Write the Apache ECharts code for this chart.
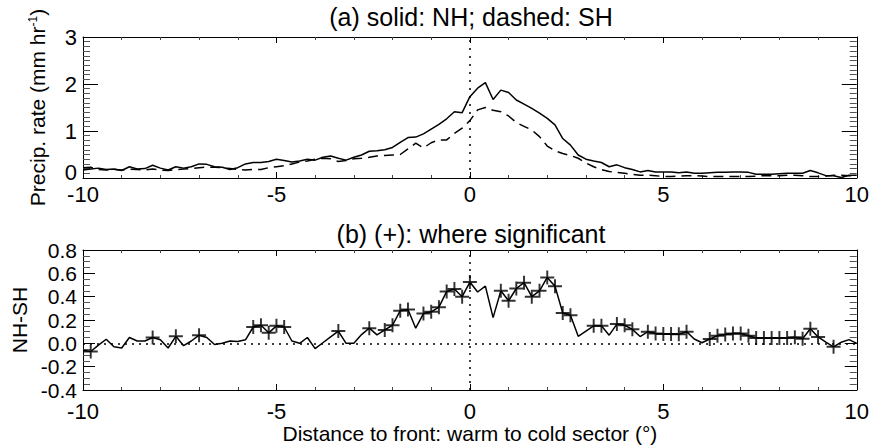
<!DOCTYPE html>
<html><head><meta charset="utf-8">
<script src="https://cdn.jsdelivr.net/npm/echarts@6/dist/echarts.min.js"></script>
<style>html,body{margin:0;padding:0;background:#fff}#c{width:872px;height:445px}</style>
</head><body><div id="c"></div>
<script>
// distance to front (deg), warm to cold sector
const distance = [
-10.0,-9.8,-9.6,-9.4,-9.2,-9.0,-8.8,-8.6,-8.4,-8.2,
-8.0,-7.8,-7.6,-7.4,-7.2,-7.0,-6.8,-6.6,-6.4,-6.2,
-6.0,-5.8,-5.6,-5.4,-5.2,-5.0,-4.8,-4.6,-4.4,-4.2,
-4.0,-3.8,-3.6,-3.4,-3.2,-3.0,-2.8,-2.6,-2.4,-2.2,
-2.0,-1.8,-1.6,-1.4,-1.2,-1.0,-0.8,-0.6,-0.4,-0.2,
0.0,0.2,0.4,0.6,0.8,1.0,1.2,1.4,1.6,1.8,
2.0,2.2,2.4,2.6,2.8,3.0,3.2,3.4,3.6,3.8,
4.0,4.2,4.4,4.6,4.8,5.0,5.2,5.4,5.6,5.8,
6.0,6.2,6.4,6.6,6.8,7.0,7.2,7.4,7.6,7.8,
8.0,8.2,8.4,8.6,8.8,9.0,9.2,9.4,9.6,9.8,
10.0];
// NH precip rate (solid)
const precipNH = [
0.17,0.19,0.21,0.18,0.19,0.16,0.24,0.19,0.20,0.27,
0.21,0.17,0.24,0.21,0.24,0.30,0.29,0.24,0.23,0.18,
0.22,0.30,0.33,0.33,0.35,0.40,0.37,0.34,0.36,0.40,
0.38,0.44,0.47,0.42,0.38,0.44,0.49,0.57,0.58,0.60,
0.65,0.76,0.86,0.87,0.94,1.04,1.14,1.26,1.41,1.39,
1.73,1.91,2.03,1.67,1.87,1.82,1.66,1.57,1.48,1.38,
1.27,1.13,0.84,0.70,0.49,0.40,0.36,0.33,0.24,0.28,
0.22,0.18,0.13,0.16,0.13,0.13,0.13,0.11,0.13,0.10,
0.10,0.11,0.12,0.12,0.13,0.13,0.12,0.08,0.08,0.08,
0.09,0.10,0.10,0.10,0.16,0.11,0.05,0.05,0.01,0.06,
0.06];
// SH precip rate (dashed)
const precipSH = [
0.22,0.23,0.18,0.17,0.18,0.17,0.19,0.18,0.17,0.19,
0.17,0.16,0.18,0.19,0.20,0.22,0.23,0.23,0.22,0.20,
0.18,0.17,0.18,0.18,0.22,0.24,0.26,0.30,0.34,0.36,
0.40,0.42,0.41,0.35,0.37,0.41,0.42,0.44,0.47,0.48,
0.49,0.50,0.62,0.74,0.64,0.75,0.81,0.81,0.95,1.06,
1.22,1.45,1.50,1.44,1.41,1.32,1.18,1.10,1.02,0.88,
0.68,0.58,0.52,0.48,0.42,0.32,0.24,0.18,0.14,0.12,
0.10,0.08,0.06,0.06,0.05,0.03,0.03,0.04,0.05,0.05,
0.04,0.03,0.03,0.03,0.03,0.03,0.03,0.04,0.05,0.05,
0.05,0.06,0.06,0.05,0.03,0.03,0.04,0.06,0.06,0.05,
0.05];
// NH-SH difference
const diffNHSH = [
-0.06,-0.07,-0.015,0.035,-0.03,-0.04,0.05,0.02,0.02,0.05,
0.03,-0.04,0.06,-0.02,0.02,0.07,0.05,-0.01,0.00,0.02,
0.015,0.03,0.14,0.155,0.09,0.15,0.14,0.02,0.00,0.05,
-0.045,0.005,0.055,0.105,0.00,0.00,0.075,0.13,0.072,0.115,
0.155,0.28,0.29,0.13,0.255,0.27,0.31,0.445,0.465,0.40,
0.525,0.44,0.49,0.22,0.45,0.365,0.47,0.52,0.40,0.45,
0.565,0.49,0.26,0.24,0.06,0.105,0.15,0.15,0.07,0.165,
0.155,0.12,0.058,0.10,0.085,0.08,0.08,0.078,0.10,0.037,
0.005,0.037,0.065,0.075,0.085,0.085,0.065,0.045,0.045,0.045,
0.045,0.045,0.053,0.04,0.125,0.055,0.01,-0.03,0.01,0.032,
0.0];
// distances where difference is significant (+)
const significantAt = [-9.8,-8.2,-7.6,-7.0,-5.6,-5.4,-5.2,-5.0,-4.8,-3.4,-2.6,-2.2,-2.0,-1.8,-1.6,
-1.2,-1.0,-0.8,-0.6,-0.4,-0.2,0.0,0.8,1.0,1.2,1.4,1.6,1.8,2.0,2.2,2.4,2.6,3.2,3.4,3.8,4.0,4.2,
4.6,4.8,5.0,5.2,5.4,5.6,6.2,6.4,6.6,6.8,7.0,7.2,7.4,7.6,7.8,8.0,8.2,8.4,8.6,8.8,9.0,9.4];
const xTicks = [-10, -5, 0, 5, 10];
const yTicksTop = [0, 1, 2, 3];
const yTicksBottom = [-0.4, -0.2, 0.0, 0.2, 0.4, 0.6, 0.8];

const FONT = "'Liberation Sans', Arial, Helvetica, sans-serif";
const zip = (a, b) => a.map((v, i) => [v, b[i]]);
const sigData = significantAt.map(x => {
  const i = distance.findIndex(d => Math.abs(d - x) < 1e-6);
  return [distance[i], diffNHSH[i]];
});
const PLUS = 'path://M-1,-0.14 L1,-0.14 L1,0.14 L-1,0.14 Z M-0.14,-1 L0.14,-1 L0.14,1 L-0.14,1 Z';

function xAx(grid, pos, labels, name, margin) {
  return {
    type: 'value', gridIndex: grid, position: pos, min: xTicks[0], max: xTicks[xTicks.length - 1], interval: 5,
    axisLine: { show: true, onZero: false, lineStyle: { color: '#000', width: 1 } },
    axisTick: { show: true, inside: true, length: 6, lineStyle: { color: '#000' } },
    minorTick: { show: true, splitNumber: 5, length: 3, lineStyle: { color: '#444' } },
    splitLine: { show: false },
    axisLabel: { show: labels, color: '#000', fontSize: 22, fontFamily: FONT, margin: margin || 5,
      showMinLabel: true, showMaxLabel: true },
    name: name || '', nameLocation: 'middle', nameGap: 33,
    nameTextStyle: { color: '#000', fontSize: 21, fontFamily: FONT }
  };
}
function yAx(grid, pos, labels, min, max, interval, minorSplit, majLen, fmt, fs, name, gap) {
  return {
    type: 'value', gridIndex: grid, position: pos, min: min, max: max, interval: interval,
    axisLine: { show: true, onZero: false, lineStyle: { color: '#000', width: 1 } },
    axisTick: { show: true, inside: true, length: majLen, lineStyle: { color: '#000' } },
    minorTick: { show: true, splitNumber: minorSplit, length: 7, lineStyle: { color: '#555' } },
    splitLine: { show: false },
    axisLabel: { show: labels, color: '#000', fontSize: fs, fontFamily: FONT, margin: 6, formatter: fmt,
      showMinLabel: true, showMaxLabel: true,
      rich: { z: { fontSize: fs, fontFamily: FONT, color: '#000', padding: [0, 0, 12, 0] } } },
    name: name || '', nameLocation: 'middle', nameGap: gap || 40,
    nameTextStyle: { color: '#000', fontSize: 21, fontFamily: FONT,
      rich: { sup: { fontSize: 12, verticalAlign: 'top', padding: [0, 0, 9, 0], color: '#000', fontFamily: FONT } } }
  };
}
const fmtTop = v => (v === 0 ? '{z|0}' : String(Math.round(v)));
const fmtBot = v => (Math.abs(v) < 1e-9 ? '0.0' : v.toFixed(1));

const dotted = (data, dash) => ({
  silent: true, symbol: ['none', 'none'], label: { show: false },
  lineStyle: { color: '#000', width: 1.5, type: dash, opacity: 1 },
  emphasis: { disabled: true }, animation: false, data: data
});

const chart = echarts.init(document.getElementById('c'), null, { renderer: 'svg' });
chart.setOption({
  animation: false,
  backgroundColor: '#fff',
  textStyle: { fontFamily: FONT },
  graphic: [
    { type: 'text', x: 471, y: 17, style: { text: '(a) solid: NH; dashed: SH', font: '25px ' + FONT, fill: '#000', align: 'center', verticalAlign: 'middle' } },
    { type: 'text', x: 471, y: 234, style: { text: '(b) (+): where significant', font: '25px ' + FONT, fill: '#000', align: 'center', verticalAlign: 'middle' } }
  ],
  grid: [
    { left: 83, top: 37, width: 775, height: 141 },
    { left: 83, top: 250, width: 775, height: 141 }
  ],
  xAxis: [
    xAx(0, 'bottom', true, '', 5),
    xAx(1, 'bottom', true, 'Distance to front: warm to cold sector (°)', 10),
    xAx(0, 'top', false),
    xAx(1, 'top', false)
  ],
  yAxis: [
    yAx(0, 'left', true, 0, 3, 1, 10, 15, fmtTop, 22, 'Precip. rate (mm hr{sup|-1})', 35),
    yAx(1, 'left', true, -0.4, 0.8, 0.2, 4, 12, fmtBot, 21, 'NH-SH', 47),
    yAx(0, 'right', false, 0, 3, 1, 10, 15, fmtTop, 22),
    yAx(1, 'right', false, -0.4, 0.8, 0.2, 4, 12, fmtBot, 21)
  ],
  series: [
    { name: 'NH', type: 'line', xAxisIndex: 0, yAxisIndex: 0, data: zip(distance, precipNH), symbol: 'none',
      lineStyle: { color: '#000', width: 1.5 }, silent: true,
      markLine: dotted([{ xAxis: 0 }], [2, 6]) },
    { name: 'SH', type: 'line', xAxisIndex: 0, yAxisIndex: 0, data: zip(distance, precipSH), symbol: 'none',
      lineStyle: { color: '#000', width: 1.5, type: [10, 6] }, silent: true },
    { name: 'NH-SH', type: 'line', xAxisIndex: 1, yAxisIndex: 1, data: zip(distance, diffNHSH), symbol: 'none',
      lineStyle: { color: '#000', width: 1.5 }, silent: true,
      markLine: dotted([{ xAxis: 0 }, { yAxis: 0 }], [2, 5]) },
    { name: 'significant', type: 'scatter', xAxisIndex: 1, yAxisIndex: 1, data: sigData, symbol: PLUS,
      symbolSize: 14, itemStyle: { color: '#000' }, silent: true, z: 5 }
  ]
});
</script></body></html>
